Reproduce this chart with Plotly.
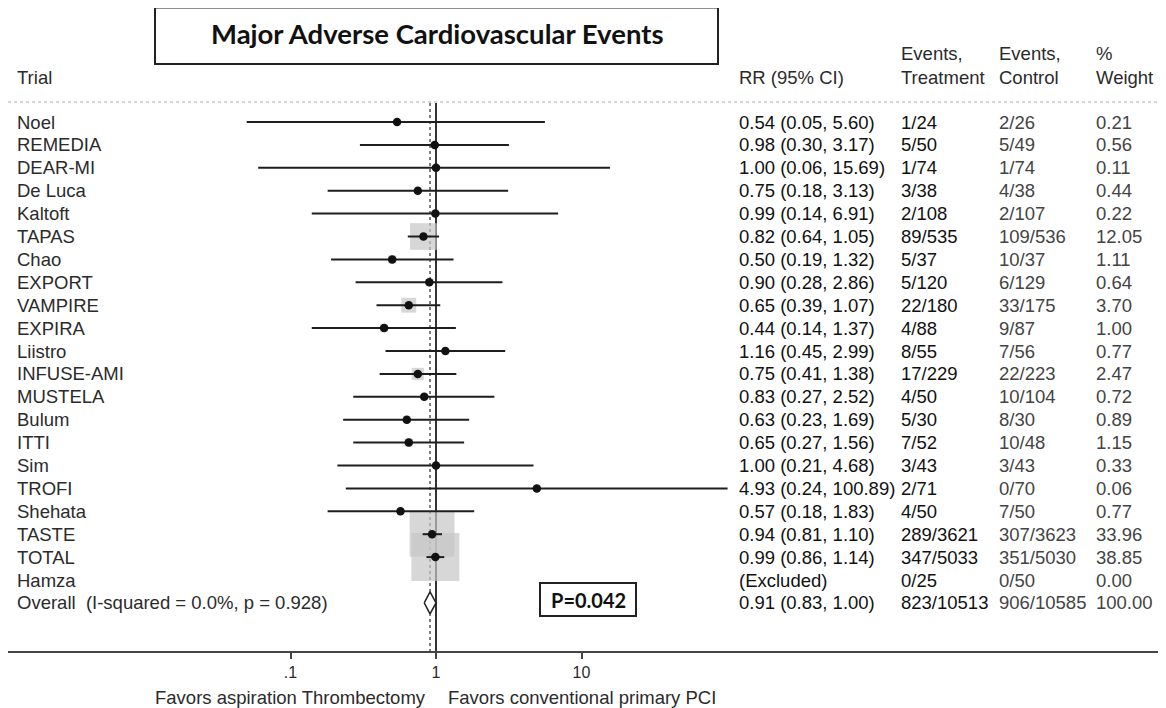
import plotly.graph_objects as go

# ---------------- data ----------------
trials = ["Noel", "REMEDIA", "DEAR-MI", "De Luca", "Kaltoft", "TAPAS", "Chao", "EXPORT",
          "VAMPIRE", "EXPIRA", "Liistro", "INFUSE-AMI", "MUSTELA", "Bulum", "ITTI", "Sim",
          "TROFI", "Shehata", "TASTE", "TOTAL", "Hamza"]
rr = [0.54, 0.98, 1.00, 0.75, 0.99, 0.82, 0.50, 0.90, 0.65, 0.44, 1.16, 0.75, 0.83, 0.63,
      0.65, 1.00, 4.93, 0.57, 0.94, 0.99, None]
ci_low = [0.05, 0.30, 0.06, 0.18, 0.14, 0.64, 0.19, 0.28, 0.39, 0.14, 0.45, 0.41, 0.27, 0.23,
          0.27, 0.21, 0.24, 0.18, 0.81, 0.86, None]
ci_high = [5.60, 3.17, 15.69, 3.13, 6.91, 1.05, 1.32, 2.86, 1.07, 1.37, 2.99, 1.38, 2.52, 1.69,
           1.56, 4.68, 100.89, 1.83, 1.10, 1.14, None]
events_treatment = ["1/24", "5/50", "1/74", "3/38", "2/108", "89/535", "5/37", "5/120", "22/180",
                    "4/88", "8/55", "17/229", "4/50", "5/30", "7/52", "3/43", "2/71", "4/50",
                    "289/3621", "347/5033", "0/25"]
events_control = ["2/26", "5/49", "1/74", "4/38", "2/107", "109/536", "10/37", "6/129", "33/175",
                  "9/87", "7/56", "22/223", "10/104", "8/30", "10/48", "3/43", "0/70", "7/50",
                  "307/3623", "351/5030", "0/50"]
weights = [0.21, 0.56, 0.11, 0.44, 0.22, 12.05, 1.11, 0.64, 3.70, 1.00, 0.77, 2.47, 0.72, 0.89,
           1.15, 0.33, 0.06, 0.77, 33.96, 38.85, 0.00]

overall_label = "Overall  (I-squared = 0.0%, p = 0.928)"
overall_rr, overall_low, overall_high = 0.91, 0.83, 1.00
overall_events_t, overall_events_c, overall_weight = "823/10513", "906/10585", "100.00"
tick_vals = [0.1, 1, 10]
tick_text = [".1", "1", "10"]
p_value_text = "P=0.042"
title_text = "Major Adverse Cardiovascular Events"

# ---------------- layout helpers ----------------
# the page body has an 8px margin, so the figure is sized to fit inside the window
OFF = 8
W, H = 1166 - OFF, 708 - OFF
AXIS_PX = 651            # axis line position in the window
ML = 0
MB = 708 - AXIS_PX
PLOT_W = W - ML
PLOT_H = H - MB
ROW0_PX, ROW_STEP = 122.0, 22.9   # window pixels


def px_to_row(py):
    return (py - ROW0_PX) / ROW_STEP


def px_to_paperx(px):
    return (px - OFF - ML) / PLOT_W


def px_to_papery(py):
    return 1 - (py - OFF) / PLOT_H


FONT = "Liberation Sans, Arial, sans-serif"
FS = 18.5
TXT = "#2b2b2b"

fig = go.Figure()

n = len(trials)
rows = list(range(n))
overall_row = n

top_row = px_to_row(103)
bottom_row = px_to_row(AXIS_PX)
top_edge_row = px_to_row(OFF)

# reference line at 1 (solid) and overall estimate (dotted)
fig.add_trace(go.Scatter(x=[1, 1], y=[top_row, bottom_row], mode="lines",
                         line=dict(color="#333333", width=2), hoverinfo="skip"))
fig.add_trace(go.Scatter(x=[overall_rr, overall_rr], y=[top_row, bottom_row], mode="lines",
                         line=dict(color="#555555", width=1.5, dash="dot"), hoverinfo="skip"))

# weight boxes
bx, by, bs = [], [], []
for i in rows:
    if rr[i] is not None and weights[i] > 0:
        bx.append(rr[i])
        by.append(i)
        bs.append(7.7 * weights[i] ** 0.5)
fig.add_trace(go.Scatter(x=bx, y=by, mode="markers",
                         marker=dict(symbol="square", size=bs, color="#c6c6c6", line=dict(width=0)),
                         hoverinfo="skip"))

# confidence intervals
lx, ly = [], []
for i in rows:
    if rr[i] is not None:
        lx += [ci_low[i], ci_high[i], None]
        ly += [i, i, None]
fig.add_trace(go.Scatter(x=lx, y=ly, mode="lines", line=dict(color="#1e1e1e", width=2),
                         hoverinfo="skip"))

# point estimates
px_, py_ = [], []
for i in rows:
    if rr[i] is not None:
        px_.append(rr[i])
        py_.append(i)
fig.add_trace(go.Scatter(x=px_, y=py_, mode="markers",
                         marker=dict(symbol="circle", size=8.5, color="#111111"), hoverinfo="skip"))

# overall diamond
dh = 0.48
fig.add_trace(go.Scatter(
    x=[overall_low, overall_rr, overall_high, overall_rr, overall_low],
    y=[overall_row, overall_row - dh, overall_row, overall_row + dh, overall_row],
    mode="lines", fill="toself", fillcolor="white",
    line=dict(color="#222222", width=1.5), hoverinfo="skip"))

annotations = []


def txt(xpx, row, text, size=FS, color=TXT, anchor="left", bold=False, font=FONT):
    if bold:
        text = "<b>" + text + "</b>"
    annotations.append(dict(xref="paper", yref="y", x=px_to_paperx(xpx), y=row, text=text,
                            showarrow=False, xanchor=anchor, yanchor="middle",
                            font=dict(family=font, size=size, color=color)))


COL_LABEL, COL_RR, COL_T, COL_C, COL_W = 15, 737, 899, 997, 1094

# headers
hdr1 = px_to_row(53)
hdr2 = px_to_row(77)
txt(COL_LABEL, hdr2, "Trial")
txt(COL_RR, hdr2, "RR (95% CI)")
txt(COL_T, hdr1, "Events,")
txt(COL_T, hdr2, "Treatment")
txt(COL_C, hdr1, "Events,")
txt(COL_C, hdr2, "Control")
txt(COL_W, hdr1, "%")
txt(COL_W, hdr2, "Weight")

for i in rows:
    txt(COL_LABEL, i, trials[i])
    if rr[i] is None:
        txt(COL_RR, i, "(Excluded)", color="#111111")
    else:
        txt(COL_RR, i, f"{rr[i]:.2f} ({ci_low[i]:.2f}, {ci_high[i]:.2f})", color="#111111")
    txt(COL_T, i, events_treatment[i], color="#111111")
    txt(COL_C, i, events_control[i], color="#444444")
    txt(COL_W, i, f"{weights[i]:.2f}", color="#444444")

txt(COL_LABEL, overall_row, overall_label)
txt(COL_RR, overall_row, f"{overall_rr:.2f} ({overall_low:.2f}, {overall_high:.2f})", color="#111111")
txt(COL_T, overall_row, overall_events_t, color="#111111")
txt(COL_C, overall_row, overall_events_c, color="#444444")
txt(COL_W, overall_row, overall_weight, color="#444444")

# title
annotations.append(dict(xref="paper", yref="paper", x=px_to_paperx(437), y=px_to_papery(33),
                        text="<b>" + title_text + "</b>", showarrow=False,
                        xanchor="center", yanchor="middle",
                        font=dict(family="Lato, sans-serif", size=27.5, color="#111111")))
# p value
annotations.append(dict(xref="paper", yref="paper", x=px_to_paperx(588), y=px_to_papery(600),
                        text="<b>" + p_value_text + "</b>", showarrow=False,
                        xanchor="center", yanchor="middle",
                        font=dict(family="Lato, sans-serif", size=20, color="#111111")))
# favors labels
annotations.append(dict(xref="x", yref="paper", x=0, y=px_to_papery(697),
                        text="Favors aspiration Thrombectomy", showarrow=False,
                        xanchor="right", yanchor="middle", xshift=-8,
                        font=dict(family=FONT, size=FS, color=TXT)))
annotations.append(dict(xref="x", yref="paper", x=0, y=px_to_papery(697),
                        text="Favors conventional primary PCI", showarrow=False,
                        xanchor="left", yanchor="middle", xshift=10,
                        font=dict(family=FONT, size=FS, color=TXT)))

shapes = [
    # title box
    dict(type="rect", xref="paper", yref="paper",
         x0=px_to_paperx(155), x1=px_to_paperx(718), y0=px_to_papery(64), y1=px_to_papery(7.5),
         line=dict(color="#222222", width=2), fillcolor="rgba(0,0,0,0)"),
    # p-value box
    dict(type="rect", xref="paper", yref="paper",
         x0=px_to_paperx(540), x1=px_to_paperx(636), y0=px_to_papery(616), y1=px_to_papery(583),
         line=dict(color="#222222", width=2), fillcolor="rgba(0,0,0,0)"),
    # dotted separator
    dict(type="line", xref="paper", yref="paper", x0=0, x1=1,
         y0=px_to_papery(102), y1=px_to_papery(102),
         line=dict(color="#c8c8c8", width=1.5, dash="dot")),
]

decade = 145.5
x_lo = -(436 - OFF - ML) / decade
x_hi = (1166 - 436) / decade

fig.update_layout(
    width=W, height=H, autosize=False,
    margin=dict(l=ML, r=0, t=0, b=MB),
    paper_bgcolor="white", plot_bgcolor="white",
    showlegend=False,
    annotations=annotations, shapes=shapes,
    xaxis=dict(type="log", range=[x_lo, x_hi], showgrid=False, zeroline=False,
               showline=True, linecolor="#444444", linewidth=2,
               tickmode="array", tickvals=tick_vals, ticktext=tick_text,
               ticks="outside", ticklen=6, tickwidth=2, tickcolor="#444444",
               tickfont=dict(family=FONT, size=16, color=TXT), fixedrange=True),
    yaxis=dict(range=[bottom_row, top_edge_row], visible=False, fixedrange=True),
)

fig.write_html("out.html")
